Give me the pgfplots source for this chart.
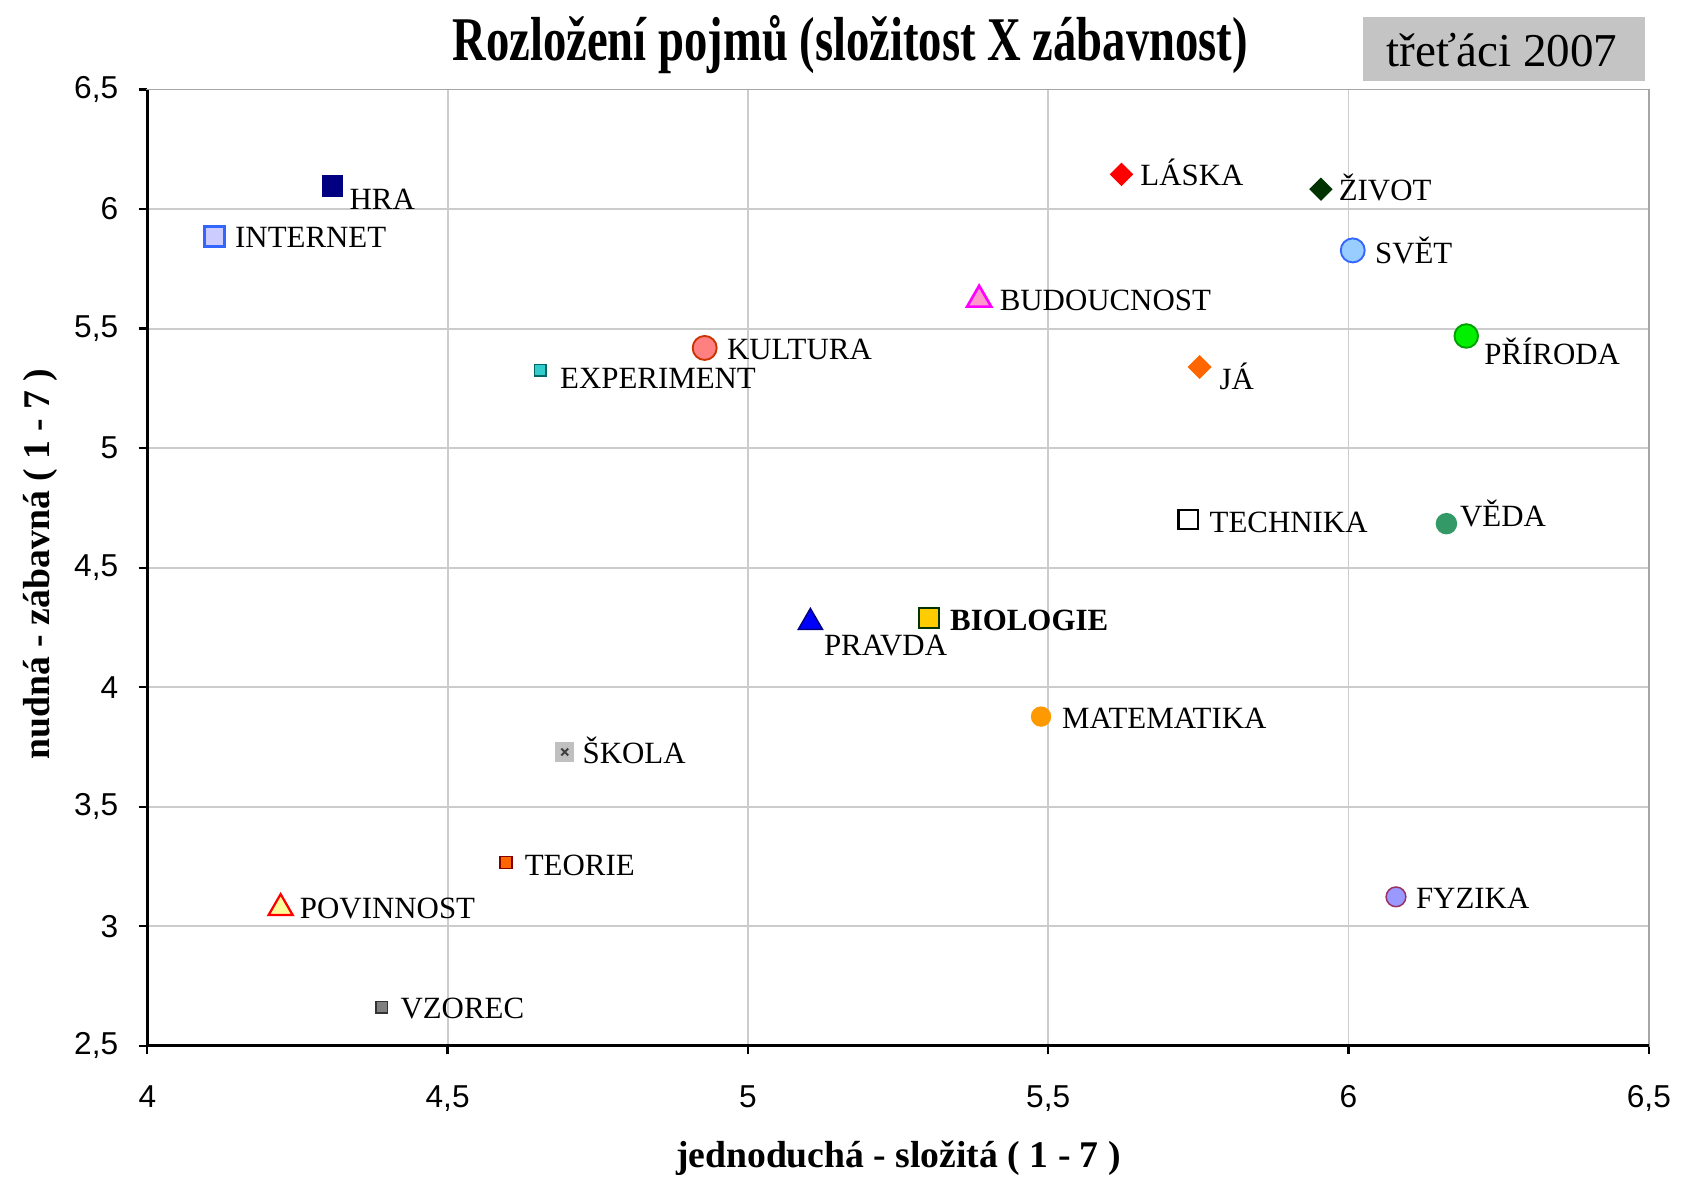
\documentclass[border=0pt]{standalone}
\usepackage{fontspec}
\setmainfont{Liberation Serif}
\setsansfont{Liberation Sans}
\usepackage{graphicx}
\usepackage{pgfplots}
\pgfplotsset{compat=1.18}
\definecolor{boxgray}{RGB}{196,196,196}
\definecolor{cNavy}{RGB}{0,0,128}
\definecolor{cLav}{RGB}{204,204,255}
\definecolor{cBlueB}{RGB}{51,102,255}
\definecolor{cTeal}{RGB}{51,204,204}
\definecolor{cTealB}{RGB}{0,102,102}
\definecolor{cSalmon}{RGB}{255,128,128}
\definecolor{cSalmonB}{RGB}{204,51,0}
\definecolor{cPink}{RGB}{255,153,204}
\definecolor{cMag}{RGB}{255,0,255}
\definecolor{cRed}{RGB}{255,0,0}
\definecolor{cDkGreen}{RGB}{0,51,0}
\definecolor{cSky}{RGB}{153,204,255}
\definecolor{cLime}{RGB}{0,240,0}
\definecolor{cLimeB}{RGB}{0,160,0}
\definecolor{cOrange}{RGB}{255,102,0}
\definecolor{cSea}{RGB}{51,153,102}
\definecolor{cBlue}{RGB}{0,0,255}
\definecolor{cGold}{RGB}{255,204,0}
\definecolor{cAmber}{RGB}{255,153,0}
\definecolor{cSilver}{RGB}{192,192,192}
\definecolor{cMaroon}{RGB}{128,0,0}
\definecolor{cYellow}{RGB}{255,255,153}
\definecolor{cGray}{RGB}{128,128,128}
\definecolor{cPeri}{RGB}{153,153,255}
\definecolor{cPlum}{RGB}{153,51,102}
\newcommand\lf{\fontsize{8.2}{10}\selectfont}
\pgfplotsset{
  lab/.style 2 args={nodes near coords, point meta=explicit symbolic,
    nodes near coords style={anchor=base west, inner sep=0pt, text=black, font=\lf, xshift=#1, yshift=#2}},
}
\begin{document}
\begin{tikzpicture}
\useasboundingbox (0,0) rectangle (156.8mm,110mm);
\fill[boxgray] (127.1mm,102.4mm) rectangle (153.4mm,108.4mm);
\node[anchor=base, inner sep=0pt] at (140.1mm,103.8mm) {\fontsize{12.5}{14}\selectfont třeťáci 2007};
\node[anchor=base, inner sep=0pt] at (79.3mm,104.4mm) {\scalebox{0.75}[1]{\fontsize{16.5}{18}\selectfont\bfseries Rozložení pojmů (složitost X zábavnost)}};
\node[anchor=base, inner sep=0pt] at (83.8mm,1.08mm) {\fontsize{10}{12}\selectfont\bfseries jednoduchá - složitá ( 1 - 7 )};
\node[anchor=base, inner sep=0pt, rotate=90] at (4.66mm,57.4mm) {\fontsize{10}{12}\selectfont\bfseries nudná - zábavná ( 1 - 7 )};
\begin{axis}[
  at={(13.74mm,12.45mm)}, anchor=south west,
  scale only axis, width=140.06mm, height=89.2mm,
  xmin=4, xmax=6.5, ymin=2.5, ymax=6.5,
  xtick={4,4.5,5,5.5,6,6.5}, ytick={2.5,3,3.5,4,4.5,5,5.5,6,6.5},
  grid=major, major grid style={draw=gray!40, line width=0.5pt},
  axis line style={draw=gray!70, line width=0.5pt},
  tick align=outside, tick pos=left, major tick length=0.8mm,
  tick style={black, line width=0.6pt},
  ticklabel style={font=\sffamily\fontsize{8.4}{10}\selectfont},
  /pgf/number format/use comma, /pgf/number format/assume math mode=true,
  xticklabel style={anchor=north, inner sep=0pt, yshift=-2.85mm},
  yticklabel style={anchor=east, inner sep=0pt, xshift=-1.84mm},
  clip=false,
]
\draw[black, line width=0.9pt] (rel axis cs:0,1) -- (rel axis cs:0,0) -- (rel axis cs:1,0);
% HRA
\addplot[only marks, mark=square*, mark size=0.93mm, mark options={draw=cNavy, fill=cNavy}, lab={1.55mm}{-2.15mm}] coordinates {(4.308,6.096) [HRA]};
% INTERNET
\addplot[only marks, mark=square*, mark size=0.93mm, mark options={draw=cBlueB, fill=cLav, line width=0.7pt}, lab={1.8mm}{-1.08mm}] coordinates {(4.112,5.886) [INTERNET]};
% EXPERIMENT
\addplot[only marks, mark=square*, mark size=0.54mm, mark options={draw=cTealB, fill=cTeal, line width=0.4pt}, lab={1.8mm}{-1.68mm}] coordinates {(4.654,5.325) [EXPERIMENT]};
% KULTURA
\addplot[only marks, mark=*, mark size=1.12mm, mark options={draw=cSalmonB, fill=cSalmon, line width=0.5pt}, lab={2.0mm}{-1.08mm}] coordinates {(4.928,5.419) [KULTURA]};
% BUDOUCNOST
\addplot[only marks, mark=triangle*, mark size=1.3mm, mark options={draw=cMag, fill=cPink, line width=0.7pt}, lab={1.8mm}{-0.98mm}] coordinates {(5.385,5.621) [BUDOUCNOST]};
% LASKA
\addplot[only marks, mark=square*, mark size=0.7mm, mark options={rotate=45, draw=cRed, fill=cRed}, lab={1.7mm}{-1.08mm}] coordinates {(5.622,6.145) [LÁSKA]};
% ZIVOT
\addplot[only marks, mark=square*, mark size=0.7mm, mark options={rotate=45, draw=cDkGreen, fill=cDkGreen}, lab={1.6mm}{-1.08mm}] coordinates {(5.954,6.083) [ŽIVOT]};
% SVET
\addplot[only marks, mark=*, mark size=1.12mm, mark options={draw=cBlueB, fill=cSky, line width=0.5pt}, lab={2.0mm}{-1.18mm}] coordinates {(6.007,5.827) [SVĚT]};
% PRIRODA
\addplot[only marks, mark=*, mark size=1.1mm, mark options={draw=cLimeB, fill=cLime, line width=0.5pt}, lab={1.6mm}{-2.68mm}] coordinates {(6.196,5.469) [PŘÍRODA]};
% JA
\addplot[only marks, mark=square*, mark size=0.72mm, mark options={rotate=45, draw=cOrange, fill=cOrange}, lab={1.8mm}{-2.08mm}] coordinates {(5.752,5.339) [JÁ]};
% TECHNIKA
\addplot[only marks, mark=square*, mark size=0.9mm, mark options={draw=black, fill=white, line width=0.6pt}, lab={1.9mm}{-1.18mm}] coordinates {(5.733,4.702) [TECHNIKA]};
% VEDA
\addplot[only marks, mark=*, mark size=0.93mm, mark options={draw=cSea, fill=cSea}, lab={1.2mm}{-0.28mm}] coordinates {(6.163,4.684) [VĚDA]};
% PRAVDA
\addplot[only marks, mark=triangle*, mark size=1.3mm, mark options={draw=cNavy, fill=cBlue, line width=0.4pt}, lab={1.2mm}{-3.08mm}] coordinates {(5.104,4.271) [PRAVDA]};
% BIOLOGIE
\addplot[only marks, mark=square*, mark size=0.93mm, mark options={draw=cDkGreen, fill=cGold, line width=0.6pt}, nodes near coords, point meta=explicit symbolic,
  nodes near coords style={anchor=base west, inner sep=0pt, text=black, font=\lf\bfseries, xshift=1.9mm, yshift=-1.18mm}] coordinates {(5.301,4.289) [BIOLOGIE]};
% MATEMATIKA
\addplot[only marks, mark=*, mark size=0.88mm, mark options={draw=cAmber, fill=cAmber}, lab={1.9mm}{-1.08mm}] coordinates {(5.488,3.877) [MATEMATIKA]};
% SKOLA
\addplot[only marks, mark=square*, mark size=0.82mm, mark options={draw=cSilver, fill=cSilver}, lab={1.6mm}{-1.08mm}] coordinates {(4.695,3.729) [ŠKOLA]};
\addplot[only marks, mark=x, mark size=0.45mm, mark options={draw=black!75, line width=0.5pt}] coordinates {(4.695,3.729)};
% TEORIE
\addplot[only marks, mark=square*, mark size=0.56mm, mark options={draw=cMaroon, fill=cOrange, line width=0.4pt}, lab={1.7mm}{-1.18mm}] coordinates {(4.597,3.267) [TEORIE]};
% POVINNOST
\addplot[only marks, mark=triangle*, mark size=1.3mm, mark options={draw=cRed, fill=cYellow, line width=0.6pt}, lab={1.7mm}{-0.98mm}] coordinates {(4.222,3.076) [POVINNOST]};
% VZOREC
\addplot[only marks, mark=square*, mark size=0.54mm, mark options={draw=black!80, fill=cGray, line width=0.4pt}, lab={1.7mm}{-1.08mm}] coordinates {(4.390,2.661) [VZOREC]};
% FYZIKA
\addplot[only marks, mark=*, mark size=0.92mm, mark options={draw=cPlum, fill=cPeri, line width=0.4pt}, lab={1.8mm}{-1.08mm}] coordinates {(6.079,3.123) [FYZIKA]};
\end{axis}
\end{tikzpicture}
\end{document}
